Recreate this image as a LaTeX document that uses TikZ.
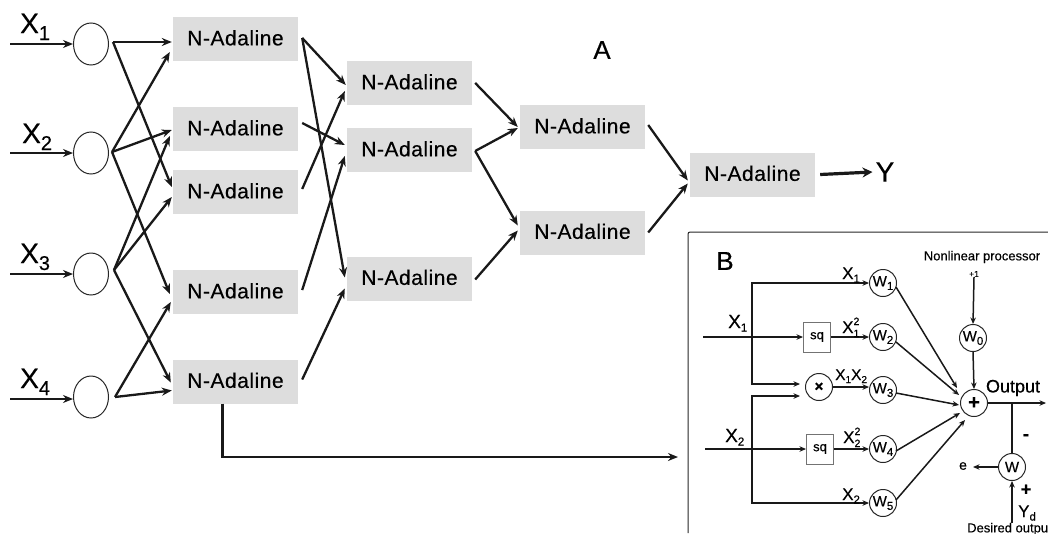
\documentclass[tikz,border=0pt]{standalone}
\usepackage{fontspec}
\setmainfont{Liberation Sans}[FakeBold=0.35]
\usetikzlibrary{arrows.meta,calc,shapes.geometric}
\newcommand\adatxt{\raisebox{2.5pt}{\addfontfeature{LetterSpace=2.5}N-Adaline}}
\newcommand\bigx[1]{X\raisebox{-7pt}{\fontsize{20}{20}\selectfont #1}}
\newcommand\midsub[1]{\raisebox{-3.5pt}{\fontsize{11.5}{12}\selectfont #1}}
\newcommand\stacked[1]{X\rlap{\raisebox{8pt}{\fontsize{10.5}{11}\selectfont 2}}\raisebox{-4pt}{\fontsize{10.5}{11}\selectfont #1}}
\tikzset{
  ada/.style={fill=boxgray,minimum width=125pt,minimum height=44pt,inner sep=0pt,font=\fontsize{21}{22}\selectfont},
  inp/.style={draw=black!85,line width=1pt,ellipse,minimum width=35pt,minimum height=42pt,inner sep=0pt},
  arr/.style={line width=2.3pt,draw=black!90,-{Stealth[length=10pt,width=8pt]}},
  big/.style={inner sep=0pt,font=\fontsize{28}{30}\selectfont,anchor=base west},
  wt/.style={draw=black!85,line width=1pt,circle,minimum size=27pt,inner sep=0pt,font=\fontsize{15}{16}\selectfont},
  sqb/.style={draw=black!55,line width=1pt,fill=white,minimum width=27pt,minimum height=30pt,inner sep=0pt,font=\fontsize{13}{14}\selectfont},
  barr/.style={line width=1.5pt,draw=black!90,-{Stealth[length=6.5pt,width=5.5pt]}},
  bline/.style={line width=1.5pt,draw=black!90},
  lab/.style={inner sep=0pt,anchor=base west,font=\fontsize{19}{20}\selectfont},
  slab/.style={inner sep=0pt,anchor=base west,font=\fontsize{17}{18}\selectfont},
  tiny/.style={inner sep=0pt,font=\fontsize{13}{14}\selectfont},
  plain/.style={inner sep=0pt},
}
\definecolor{boxgray}{HTML}{DDDDDD}
\begin{document}
\begin{tikzpicture}[x=1pt,y=-1pt]
\useasboundingbox (0,0) rectangle (1048,533);
% input circles
\node[inp] (c1) at (91,44) {};
\node[inp] (c2) at (91,153) {};
\node[inp] (c3) at (91,274) {};
\node[inp] (c4) at (91,397) {};
\coordinate (i1) at (10,44); \coordinate (i2) at (10,153);
\coordinate (i3) at (10,274); \coordinate (i4) at (10,399);
\node[big] (x1) at (20,33) {\bigx{1}};
\node[big] (x2) at (22,143) {\bigx{2}};
\node[big] (x3) at (20,263) {\bigx{3}};
\node[big] (x4) at (20,388) {\bigx{4}};
\draw[arr] (i1) -- (c1.west);
\draw[arr] (i2) -- (c2.west);
\draw[arr] (i3) -- (c3.west);
\draw[arr] (i4) -- ([shift={(0,2)}]c4.west);
% boxes
\node[ada] (a1) at (235.5,39) {\adatxt};
\node[ada] (a2) at (235.5,129) {\adatxt};
\node[ada] (a3) at (235.5,192) {\adatxt};
\node[ada] (a4) at (235.5,292) {\adatxt};
\node[ada] (a5) at (235.5,381.5) {\adatxt};
\node[ada] (b1) at (409.5,83) {\adatxt};
\node[ada] (b2) at (409.5,150) {\adatxt};
\node[ada] (b3) at (409.5,278.5) {\adatxt};
\node[ada] (d1) at (582.5,127) {\adatxt};
\node[ada] (d2) at (582.5,232.5) {\adatxt};
\node[ada] (f) at (752.5,174.5) {\adatxt};
\node[plain,font=\fontsize{28}{30}\selectfont] (yy) at (885,172) {Y};
\node[plain,font=\fontsize{26}{28}\selectfont] (aa) at (602,50) {A};
% layer 1
\draw[arr] ([shift={(4,-2)}]c1.east) -- ([shift={(-1,3)}]a1.west);
\draw[arr] ([shift={(4,-2)}]c1.east) -- ([shift={(-1,-5)}]a3.west);
\draw[arr] ([shift={(3,-1)}]c2.east) -- ([shift={(-3,13)}]a1.west);
\draw[arr] ([shift={(3,-1)}]c2.east) -- ([shift={(-1,1)}]a2.west);
\draw[arr] ([shift={(3,-1)}]c2.east) -- ([shift={(-3,2)}]a4.west);
\draw[arr] ([shift={(5,-4)}]c3.east) -- ([shift={(-3,7)}]a2.west);
\draw[arr] ([shift={(5,-4)}]c3.east) -- ([shift={(-1,5)}]a3.west);
\draw[arr] ([shift={(5,-4)}]c3.east) -- ([shift={(-2,1)}]a5.west);
\draw[arr] ([shift={(6,0)}]c4.east) -- ([shift={(-2,10)}]a4.west);
\draw[arr] ([shift={(6,0)}]c4.east) -- ([shift={(-1,9)}]a5.west);
% layer 2
\draw[arr] ([shift={(4,-1)}]a1.east) -- ([shift={(-1,2)}]b1.west);
\draw[arr] ([shift={(4,-1)}]a1.east) -- ([shift={(-2,-1)}]b3.west);
\draw[arr] ([shift={(4,-6)}]a2.east) -- ([shift={(-2,-5)}]b2.west);
\draw[arr] ([shift={(4,-3)}]a3.east) -- ([shift={(-2,8)}]b1.west);
\draw[arr] ([shift={(4,-2)}]a4.east) -- ([shift={(-2,6)}]b2.west);
\draw[arr] ([shift={(4,-2)}]a5.east) -- ([shift={(-2,10)}]b3.west);
% layer 3
\draw[arr] ([shift={(3,0)}]b1.east) -- ([shift={(-2,0)}]d1.west);
\draw[arr] ([shift={(3,1)}]b2.east) -- ([shift={(-2,1)}]d1.west);
\draw[arr] ([shift={(3,1)}]b2.east) -- ([shift={(-2,-7)}]d2.west);
\draw[arr] ([shift={(3,1)}]b3.east) -- ([shift={(-2,-2)}]d2.west);
% layer 4
\draw[arr] ([shift={(3,-2)}]d1.east) -- ([shift={(-2,6)}]f.west);
\draw[arr] ([shift={(3,0)}]d2.east) -- ([shift={(-2,9)}]f.west);
\draw[line width=3.2pt,draw=black!90,-{Stealth[length=10pt,width=10pt]}] ([xshift=5pt]f.east) -- ([xshift=-3pt]yy.west);
% panel B
\coordinate (pb) at (688,533);
\coordinate (pt) at (688,232);
\coordinate (pr) at (1048,232);
\coordinate (lend) at (678,457);
\draw[line width=1pt,draw=black!85,rounded corners=2pt] (pb) -- (pt) -- (pr);
\draw[arr] ([xshift=-13pt]a5.south) |- (lend);
\node[plain,font=\fontsize{26}{28}\selectfont] (bb) at (725,261) {B};
\node[tiny] (np) at (982,257) {Nonlinear processor};
\node[plain,font=\fontsize{8.5}{9}\selectfont] (p1) at (974,274) {+1};
\node[wt] (w1) at (883,283) {W\midsub{1}};
\node[wt] (w2) at (883,337) {W\midsub{2}};
\node[wt] (w3) at (883,390) {W\midsub{3}};
\node[wt] (w4) at (883,449) {W\midsub{4}};
\node[wt] (w5) at (883,503) {W\midsub{5}};
\node[wt] (w0) at (973,338) {W\midsub{0}};
\node[wt,font=\bfseries\fontsize{20}{20}\selectfont] (pl) at (974,403) {+};
\node[wt] (w) at (1012,467) {W};
\node[wt,font=\bfseries\fontsize{15}{15}\selectfont] (mu) at (819,387) {×};
\node[sqb] (s1) at (817,337) {sq};
\node[sqb] (s2) at (820,449) {sq};
\coordinate (x1s) at (703,337); \coordinate (x2s) at (705,449);
\coordinate (v1t) at (752,283); \coordinate (v1b) at (752,384);
\coordinate (v2t) at (752,396); \coordinate (v2b) at (752,503);
\draw[barr] (x1s) -- (s1.west);
\draw[barr] (x2s) -- (s2.west);
\draw[barr] (v1b) -- (v1t) -- (w1.west);
\draw[barr] (v1t) -- (v1b) -- ([shift={(-5,-3)}]mu.west);
\draw[barr] (v2b) -- (v2t) -- ([shift={(-5,9)}]mu.west);
\draw[barr] (v2t) -- (v2b) -- (w5.west);
\draw[barr] (s1.east) -- (w2.west);
\draw[barr] (s2.east) -- (w4.west);
\draw[barr] (mu.east) -- (mu.east -| w3.west);
\draw[barr] ([shift={(-1,4)}]w1.east) -- ([shift={(-3,-15)}]pl.west);
\draw[barr] ([shift={(-1,5)}]w2.east) -- ([shift={(-1,-8)}]pl.west);
\draw[barr] ([shift={(-1,3)}]w3.east) -- ([shift={(-1,2)}]pl.west);
\draw[barr] ([shift={(-1,2)}]w4.east) -- ([shift={(0,10)}]pl.west);
\draw[barr] ([shift={(-1,-3)}]w5.east) -- ([shift={(5,17)}]pl.west);
\draw[barr] (p1.south) -- (w0.north);
\draw[barr] (w0.south) -- (pl.north);
\coordinate (outp) at (1046,403);
\coordinate (yd) at (1012,523);
\coordinate (eend) at (973,467);
\draw[barr] (pl.east) -- (outp);
\draw[bline] (w.north) -- (w.north |- pl.east);
\draw[barr] (w.west) -- (eend);
\draw[barr] (yd) -- (w.south);
% panel labels
\node[lab] (lx1) at (728,328) {X\midsub{1}};
\node[lab] (lx2) at (725,442) {X\midsub{2}};
\node[slab] (t1) at (842,279) {X\midsub{1}};
\node[slab] (t2) at (842,333) {\stacked{1}};
\node[slab,font=\fontsize{15.5}{17}\selectfont] (t3) at (835,380) {X\raisebox{-3pt}{\fontsize{10}{11}\selectfont 1}X\raisebox{-3pt}{\fontsize{10}{11}\selectfont 2}};
\node[slab] (t4) at (843,443) {\stacked{2}};
\node[slab] (t5) at (842,500) {X\midsub{2}};
\node[plain,font=\fontsize{18}{19}\selectfont] (ot) at (1013,388) {Output};
\node[plain,font=\fontsize{14}{15}\selectfont] (ee) at (963,466) {e};
\node[plain,font=\bfseries\fontsize{18}{18}\selectfont] (mi) at (1026,437) {-};
\node[plain,font=\bfseries\fontsize{18}{18}\selectfont] (pp) at (1026,490) {+};
\node[slab] (ydl) at (1018,517) {Y\midsub{d}};
\node[tiny,anchor=west] (dout) at (967,529) {Desired output};
\end{tikzpicture}
\end{document}
